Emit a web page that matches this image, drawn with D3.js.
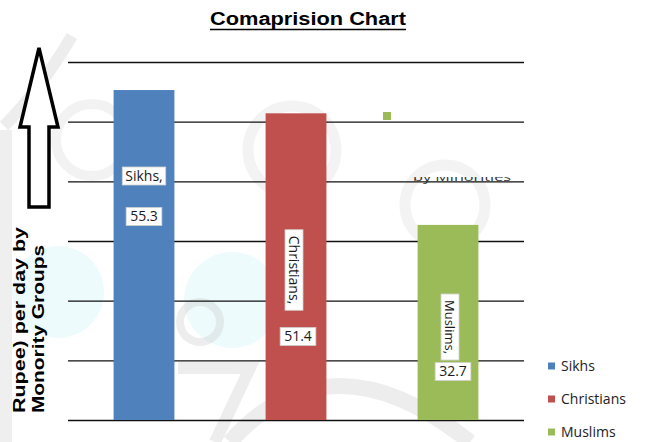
<!DOCTYPE html>
<html>
<head>
<meta charset="utf-8">
<script src="https://cdn.jsdelivr.net/npm/d3@7"></script>
<style>
body { margin: 0; background: #fff; }
svg { display: block; }
</style>
</head>
<body>
<svg id="chart" width="649" height="442"></svg>
<script>
var chartTitle = "Comaprision Chart";
var categories = ["Sikhs", "Christians", "Muslims"];
var values = [55.3, 51.4, 32.7];
var gridTicks = [0, 10, 20, 30, 40, 50, 60];
var yLabelLines = ["Rupee) per day by", "Monority Groups"];
var strayText = "by Minorities";

var colors = ["#4f81bd", "#c0504d", "#9bbb59"];

// where the data labels sit on each bar (the source placed them by hand)
var catLabelY = [176, 270, 327];
var catLabelDx = [0, -2, 2];
var catLabelRot = [0, 90, 90];
var valLabelY = [216.5, 336.5, 371.5];
var valLabelDx = [0, 2, 5];

var plotLeft = 68, plotRight = 524, plotTop = 62, plotBottom = 420;

var svg = d3.select("#chart");

// faint watermark in the background of the scan
var wm = svg.append("g").attr("fill", "none");
wm.append("circle").attr("cx", 58).attr("cy", 292).attr("r", 46).attr("fill", "#eefbfc").attr("stroke", "none");
wm.append("circle").attr("cx", 232).attr("cy", 300).attr("r", 48).attr("fill", "#eefbfc").attr("stroke", "none");
wm.append("path").attr("d", "M72,36 Q40,90 4,126").attr("stroke", "#c4c4c4").attr("stroke-width", 12).attr("opacity", 0.3);
wm.append("circle").attr("cx", 92).attr("cy", 140).attr("r", 36).attr("stroke", "#c4c4c4").attr("stroke-width", 10).attr("opacity", 0.22);
wm.append("circle").attr("cx", 292).attr("cy", 150).attr("r", 44).attr("stroke", "#c4c4c4").attr("stroke-width", 11).attr("opacity", 0.2);
wm.append("circle").attr("cx", 445).attr("cy", 205).attr("r", 40).attr("stroke", "#c4c4c4").attr("stroke-width", 11).attr("opacity", 0.2);
wm.append("circle").attr("cx", 200).attr("cy", 322).attr("r", 20).attr("stroke", "#c4c4c4").attr("stroke-width", 8).attr("opacity", 0.3);
wm.append("path").attr("d", "M178,368 L250,368 L215,442").attr("stroke", "#c4c4c4").attr("stroke-width", 12).attr("opacity", 0.3);
wm.append("path").attr("d", "M230,442 Q330,330 470,442").attr("stroke", "#c4c4c4").attr("stroke-width", 16).attr("opacity", 0.3);
wm.append("rect").attr("x", 0).attr("y", 130).attr("width", 12).attr("height", 312).attr("fill", "#d0d0d0").attr("opacity", 0.35);

// title
svg.append("text")
	.attr("x", 308).attr("y", 25)
	.attr("text-anchor", "middle")
	.attr("font-family", "Liberation Sans, Arial, sans-serif")
	.attr("font-weight", "bold")
	.attr("font-size", 18)
	.attr("textLength", 196)
	.attr("lengthAdjust", "spacingAndGlyphs")
	.text(chartTitle);
svg.append("line")
	.attr("x1", 210).attr("x2", 406)
	.attr("y1", 29.5).attr("y2", 29.5)
	.attr("stroke", "#000").attr("stroke-width", 1.6);

var x = d3.scaleBand()
	.domain(categories)
	.range([plotLeft, plotRight])
	.paddingInner(0.6)
	.paddingOuter(0.3);

var y = d3.scaleLinear()
	.domain([0, 60])
	.range([plotBottom, plotTop]);

// gridlines
var grid = svg.append("g")
	.attr("transform", "translate(" + plotLeft + ",0)")
	.call(d3.axisLeft(y).tickValues(gridTicks).tickSize(-(plotRight - plotLeft)).tickFormat(""));
grid.select(".domain").remove();
grid.selectAll(".tick line").attr("stroke", "#111").attr("stroke-width", 1.4);

// stray text and marker left over in the source
svg.append("clipPath").attr("id", "strayclip")
	.append("rect").attr("x", 400).attr("y", 177).attr("width", 130).attr("height", 8);
svg.append("text")
	.attr("x", 413).attr("y", 181)
	.attr("clip-path", "url(#strayclip)")
	.attr("font-family", "Open Sans, sans-serif")
	.attr("font-size", 11)
	.attr("fill", "#333")
	.attr("textLength", 98)
	.attr("lengthAdjust", "spacingAndGlyphs")
	.text(strayText);
svg.append("rect")
	.attr("x", 383).attr("y", 112).attr("width", 8).attr("height", 8)
	.attr("fill", colors[2]);

// bars
svg.selectAll(".bar")
	.data(values)
	.enter().append("rect")
	.attr("class", "bar")
	.attr("x", function(d, i) { return x(categories[i]); })
	.attr("y", function(d) { return y(d); })
	.attr("width", x.bandwidth())
	.attr("height", function(d) { return y(0) - y(d); })
	.attr("fill", function(d, i) { return colors[i]; });

// boxed data labels
function boxed_label(cx, cy, rot, txt, size, pad) {
	var g = svg.append("g").attr("transform", "translate(" + cx + "," + cy + ") rotate(" + rot + ")");
	var rect = g.append("rect").attr("fill", "#fff").attr("stroke", "#cfcfcf").attr("stroke-width", 0.8);
	var t = g.append("text")
		.attr("text-anchor", "middle")
		.attr("dy", "0.35em")
		.attr("font-family", "Open Sans, sans-serif")
		.attr("font-size", size)
		.attr("fill", "#1a1a1a")
		.text(txt);
	var b = t.node().getBBox();
	rect.attr("x", b.x - pad).attr("y", -9).attr("width", b.width + pad * 2).attr("height", 18);
}

categories.forEach(function(c, i) {
	var cx = x(c) + x.bandwidth() / 2;
	boxed_label(cx + catLabelDx[i], catLabelY[i], catLabelRot[i], c + ",", i == 2 ? 13 : 14, catLabelRot[i] ? 6 : 3);
	boxed_label(cx + valLabelDx[i], valLabelY[i], 0, values[i].toFixed(1), 14, 4);
});

// big hollow arrow next to the axis title
svg.append("path")
	.attr("d", "M39,48 L58,127 L49,127 L49,207 L29,207 L29,127 L20,127 Z")
	.attr("fill", "#fff")
	.attr("stroke", "#000")
	.attr("stroke-width", 3.5)
	.attr("stroke-linejoin", "miter");

// rotated axis title
var yTitle = svg.append("g").attr("transform", "translate(0,413) rotate(-90)");
yTitle.selectAll("text")
	.data(yLabelLines)
	.enter().append("text")
	.attr("x", 0)
	.attr("y", function(d, i) { return 25 + i * 18.5; })
	.attr("font-family", "Liberation Sans, Arial, sans-serif")
	.attr("font-weight", "bold")
	.attr("font-size", 17)
	.attr("textLength", function(d, i) { return i == 0 ? 186 : 168; })
	.attr("lengthAdjust", "spacingAndGlyphs")
	.text(function(d) { return d; });

// legend
var legend = svg.selectAll(".legend")
	.data(categories)
	.enter().append("g")
	.attr("class", "legend")
	.attr("transform", function(d, i) { return "translate(548," + (366 + i * 33) + ")"; });
legend.append("rect")
	.attr("x", 0).attr("y", -3.5).attr("width", 7).attr("height", 7)
	.attr("fill", function(d, i) { return colors[i]; });
legend.append("text")
	.attr("x", 13).attr("dy", "0.35em")
	.attr("font-family", "Open Sans, sans-serif")
	.attr("font-size", 14)
	.attr("fill", "#222")
	.text(function(d) { return d; });
</script>
</body>
</html>
